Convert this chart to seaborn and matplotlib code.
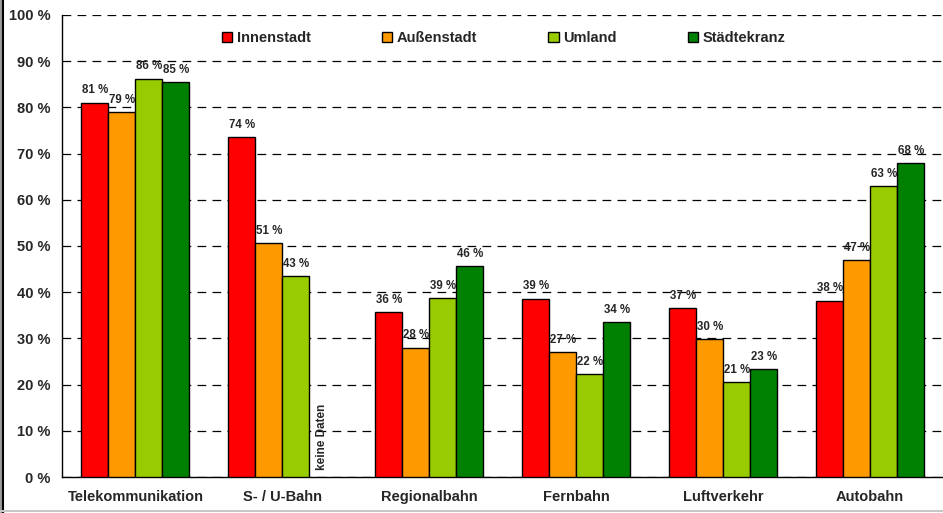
import numpy as np
import pandas as pd
import seaborn as sns
import matplotlib.pyplot as plt
from matplotlib.lines import Line2D
from matplotlib.patches import Rectangle

categories = ['Telekommunikation', 'S- / U-Bahn', 'Regionalbahn', 'Fernbahn', 'Luftverkehr', 'Autobahn']
regions = ['Innenstadt', 'Außenstadt', 'Umland', 'Städtekranz']
innenstadt = [81.0, 73.6, 35.7, 38.6, 36.6, 38.2]
aussenstadt = [79.0, 50.6, 28.0, 27.1, 29.9, 47.0]
umland = [86.2, 43.4, 38.8, 22.3, 20.6, 62.9]
staedtekranz = [85.4, np.nan, 45.7, 33.6, 23.4, 68.0]
colors = ['#FF0000', '#FF9900', '#99CC00', '#008000']

df = pd.DataFrame({
    'Kategorie': categories * 4,
    'Gebiet': sum([[r] * len(categories) for r in regions], []),
    'Wert': innenstadt + aussenstadt + umland + staedtekranz,
})

sns.set_style('white')
plt.rcParams['font.family'] = ['Liberation Sans', 'DejaVu Sans']
plt.rcParams['font.weight'] = 'bold'

fig = plt.figure(figsize=(9.43, 5.13), dpi=100)
ax = fig.add_axes([0.0657, 0.070, 0.935, 0.901])

group_width = 0.735
sns.barplot(data=df, x='Kategorie', y='Wert', hue='Gebiet', hue_order=regions,
            order=categories, palette=colors, saturation=1, width=group_width,
            edgecolor='black', linewidth=1.0, ax=ax, legend=True, zorder=3)

for cont in ax.containers:
    for bar in cont:
        h = bar.get_height()
        if np.isfinite(h) and h > 0:
            ax.annotate(f'{round(h):.0f} %', (bar.get_x() + bar.get_width() / 2, h),
                        xytext=(0, 4.5), textcoords='offset points',
                        ha='center', va='bottom', fontsize=8.3, fontweight='bold', zorder=5)

# missing value note
slot = group_width / 4
ax.text(1 + slot * 1.5 - 0.005, 1.6, 'keine Daten', rotation=90, ha='center', va='bottom',
        fontsize=8.5, fontweight='bold', zorder=5)

ax.set_xlim(-0.5, 5.5)
ax.set_ylim(0, 100)
ax.set_yticks(range(0, 101, 10))
ax.set_yticklabels([f'{v} %' for v in range(0, 101, 10)], fontsize=10.5, fontweight='bold')
ax.set_xticklabels(categories, fontsize=10.5, fontweight='bold')
ax.tick_params(axis='x', length=0, pad=9)
ax.tick_params(axis='y', length=4, width=1, color='black', direction='out', pad=4)
ax.set_xlabel('')
ax.set_ylabel('')

ax.yaxis.grid(True, color='black', linestyle=(0, (7, 5)), linewidth=0.9)
ax.set_axisbelow(True)
for s in ['top', 'right']:
    ax.spines[s].set_visible(False)
for s in ['left', 'bottom']:
    ax.spines[s].set_color('black')
    ax.spines[s].set_linewidth(1.0)

handles = [Rectangle((0, 0), 1, 1, facecolor=c, edgecolor='black', linewidth=1.0) for c in colors]
ax.legend(handles, regions, ncol=4, frameon=False, loc='center left',
          bbox_to_anchor=(222 / 943, 1 - 38 / 513), bbox_transform=fig.transFigure,
          handlelength=0.7, handleheight=0.7, handletextpad=0.3, columnspacing=4.9,
          prop={'weight': 'bold', 'size': 10.5}, borderaxespad=0, borderpad=0)

# frame edge on the left
fig.add_artist(Rectangle((0, 0), 3 / 943, 1, transform=fig.transFigure, facecolor='#9a9a9a',
                         edgecolor='none'))
fig.add_artist(Line2D([3 / 943, 3 / 943], [0, 1], transform=fig.transFigure, color='black', lw=1.5))
fig.add_artist(Line2D([0, 1], [2 / 513, 2 / 513], transform=fig.transFigure, color='#c8c8c8', lw=1.5))

fig.savefig('out.png', dpi=100)
